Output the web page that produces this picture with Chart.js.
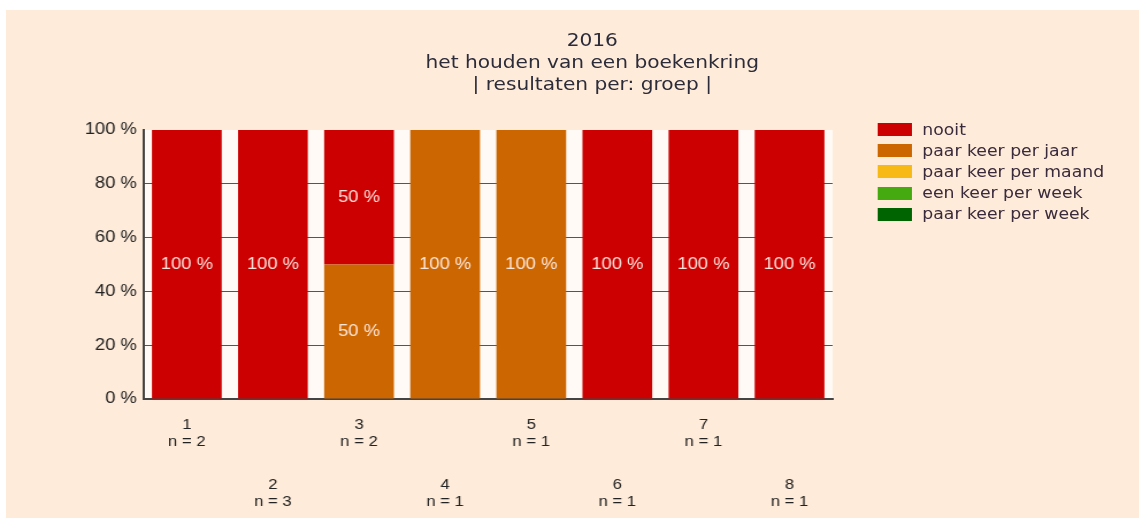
<!DOCTYPE html>
<html>
<head>
<meta charset="utf-8">
<script src="https://cdn.jsdelivr.net/npm/chart.js@4.4.1/dist/chart.umd.min.js"></script>
<style>
    html, body { margin: 0; padding: 0; background: #fff; overflow: hidden; width: 1139px; height: 518px; }
    #achtergrond { position: absolute; left: 6px; top: 10px; width: 1133px; height: 508px; background: #feebd9; }
    /* het origineel is horizontaal uitgerekt, dus alles in #wrap ook */
    #wrap { position: absolute; left: 0; top: 0; width: 990px; height: 518px; transform: scaleX(1.15); transform-origin: 0 0; }
    #grafiek { position: absolute; left: 0; top: 0; }
    #titel { position: absolute; left: 315px; width: 400px; top: 29px; text-align: center; font: 17.5px/22px "DejaVu Sans"; color: #2b2b3a; }
    #legenda { position: absolute; left: 763px; top: 119px; font: 15px "DejaVu Sans"; color: #3a2b3c; }
    .item { height: 21.2px; display: flex; align-items: center; white-space: nowrap; }
    .vak { width: 30px; height: 13px; margin-right: 9px; }
</style>
</head>
<body>
<div id="achtergrond"></div>
<div id="wrap">
    <canvas id="grafiek" width="990" height="518"></canvas>
    <div id="titel">2016<br>het houden van een boekenkring<br>| resultaten per: groep |</div>
    <div id="legenda"></div>
</div>
<script>
// groepen en aantal respondenten
const groepen = ['1', '2', '3', '4', '5', '6', '7', '8'];
const aantallen = [2, 3, 2, 1, 1, 1, 1, 1];

// percentages per antwoord
const nooit            = [100, 100, 50, 0, 0, 100, 100, 100];
const paarKeerPerJaar  = [0, 0, 50, 100, 100, 0, 0, 0];
const paarKeerPerMaand = [0, 0, 0, 0, 0, 0, 0, 0];
const eenKeerPerWeek   = [0, 0, 0, 0, 0, 0, 0, 0];
const paarKeerPerWeek  = [0, 0, 0, 0, 0, 0, 0, 0];

const yTicks = [0, 20, 40, 60, 80, 100];

// volgorde van de legenda (boven naar beneden)
const antwoorden = [
    { label: 'nooit', data: nooit, kleur: '#cc0000' },
    { label: 'paar keer per jaar', data: paarKeerPerJaar, kleur: '#cc6600' },
    { label: 'paar keer per maand', data: paarKeerPerMaand, kleur: '#f7b916' },
    { label: 'een keer per week', data: eenKeerPerWeek, kleur: '#45aa10' },
    { label: 'paar keer per week', data: paarKeerPerWeek, kleur: '#006400' }
];

// legenda
const legenda = document.getElementById('legenda');
antwoorden.forEach(a => {
    const item = document.createElement('div');
    item.className = 'item';
    item.innerHTML = `<span class="vak" style="background:${a.kleur}"></span>${a.label}`;
    legenda.appendChild(item);
});

// achtergrond van het plotvlak
const plotVlak = {
    id: 'plotVlak',
    beforeDraw(chart) {
        const { ctx, chartArea: a } = chart;
        ctx.save();
        ctx.fillStyle = '#fffaf5';
        ctx.fillRect(a.left, a.top, a.right - a.left, a.bottom - a.top);
        ctx.restore();
    }
};

// percentages in de balken
const balkLabels = {
    id: 'balkLabels',
    afterDatasetsDraw(chart) {
        const ctx = chart.ctx;
        ctx.save();
        ctx.font = '16px "Liberation Sans"';
        ctx.fillStyle = 'rgba(255, 238, 232, 0.95)';
        ctx.textAlign = 'center';
        ctx.textBaseline = 'middle';
        chart.data.datasets.forEach((ds, i) => {
            chart.getDatasetMeta(i).data.forEach((bar, j) => {
                const v = ds.data[j];
                if (!v) return;
                ctx.fillText(v + ' %', bar.x, (bar.y + bar.base) / 2);
            });
        });
        ctx.restore();
    }
};

// groep-labels in twee rijen onder de as
const groepLabels = {
    id: 'groepLabels',
    afterDraw(chart) {
        const ctx = chart.ctx;
        const xs = chart.scales.x;
        ctx.save();
        ctx.font = '14.5px "Liberation Sans"';
        ctx.fillStyle = '#222';
        ctx.textAlign = 'center';
        ctx.textBaseline = 'middle';
        groepen.forEach((g, i) => {
            const x = xs.getPixelForValue(i);
            const y = i % 2 ? 485 : 425;
            ctx.fillText(g, x, y);
            ctx.fillText('n = ' + aantallen[i], x, y + 17);
        });
        ctx.restore();
    }
};

new Chart(document.getElementById('grafiek'), {
    type: 'bar',
    data: {
        labels: groepen,
        // onderste laag eerst
        datasets: antwoorden.slice().reverse().map(a => ({
            label: a.label,
            data: a.data,
            backgroundColor: a.kleur,
            borderWidth: 0,
            barPercentage: 0.81,
            categoryPercentage: 1
        }))
    },
    options: {
        responsive: false,
        animation: false,
        devicePixelRatio: 1,
        layout: { padding: { top: 130, right: 266, bottom: 111, left: 0 } },
        plugins: {
            legend: { display: false },
            title: { display: false },
            tooltip: { enabled: false }
        },
        scales: {
            x: {
                stacked: true,
                grid: { display: false },
                border: { color: '#444', width: 2 },
                ticks: { display: false }
            },
            y: {
                stacked: true,
                min: 0,
                max: 100,
                afterBuildTicks: s => { s.ticks = yTicks.map(v => ({ value: v })); },
                afterFit: s => { s.width = 125; },
                ticks: {
                    callback: v => v + ' %',
                    font: { family: 'Liberation Sans', size: 16 },
                    color: '#222',
                    padding: 6
                },
                grid: {
                    color: c => (c.tick.value === 100 || c.tick.value === 0) ? 'rgba(0,0,0,0)' : '#555',
                    lineWidth: 1,
                    drawTicks: false
                },
                border: { color: '#444', width: 2 }
            }
        }
    },
    plugins: [plotVlak, balkLabels, groepLabels]
});
</script>
</body>
</html>
